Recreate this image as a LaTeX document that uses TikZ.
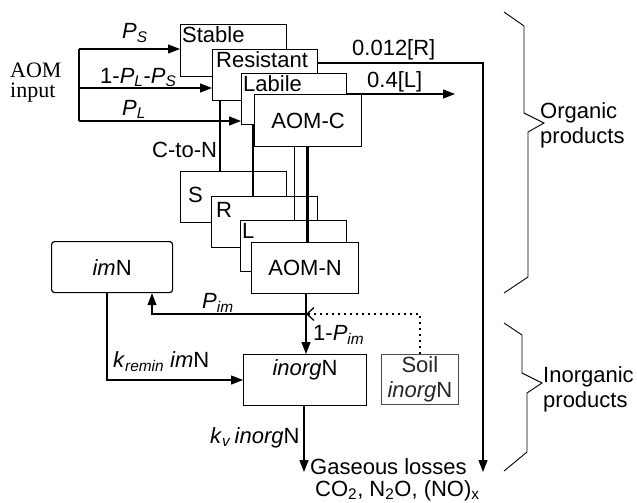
\documentclass[tikz,border=0pt]{standalone}
\usepackage{fontspec}
\setmainfont{Liberation Sans}
\newfontfamily\seriffam{Liberation Serif}
\usetikzlibrary{arrows.meta}
\begin{document}
\begin{tikzpicture}[x=1pt,y=-1pt, font=\fontsize{22}{25}\selectfont,
  box/.style={draw, fill=white, line width=1.2pt, inner sep=0pt, anchor=north west},
  txt/.style={inner sep=0pt, anchor=base west},
  ln/.style={line width=1.3pt},
  arr/.style={ln, -{Triangle[length=12pt,width=9pt]}},
  dots/.style={line width=2pt, dash pattern=on 2pt off 4pt, -{Straight Barb[length=7pt,width=13pt,line width=1.3pt]}},
  brace/.style={line width=0.9pt, line join=miter}]
\useasboundingbox (0,0) rectangle (637,503);
% carbon pools
\node[box, minimum width=106pt, minimum height=52pt] (stable) at (180,24) {};
\node[txt] (tstable) at (182,43) {Stable};
\node[box, minimum width=105pt, minimum height=51pt] (resistant) at (212,49) {};
\node[txt] (tres) at (216,67) {Resistant};
\node[box, minimum width=105pt, minimum height=51pt] (labile) at (241,73) {};
\node[txt] (tlab) at (243,92) {Labile};
\node[box, minimum width=107pt, minimum height=52pt] (aomc) at (254,94) {AOM-C};
% nitrogen pools
\node[box, minimum width=106pt, minimum height=51pt] (S) at (180,171) {};
\node[txt] (tS) at (188,202) {S};
\node[box, minimum width=106pt, minimum height=51pt] (R) at (211,196) {};
\node[txt] (tR) at (216,217) {R};
\node[box, minimum width=106pt, minimum height=51pt] (L) at (240,220) {};
\node[txt] (tL) at (242,238) {L};
\node[box, minimum width=107pt, minimum height=51pt] (aomn) at (251,242) {AOM-N};
% C to N connectors
\coordinate (xS) at (220,0);
\coordinate (xR) at (253,0);
\coordinate (xL) at (294,0);
\coordinate (xA) at (307,0);
\draw[ln] (resistant.south -| xS) -- (S.north -| xS);
\draw[ln] (labile.south -| xR) -- (R.north -| xR);
\draw[line width=1pt] (aomc.south -| xL) -- (L.north -| xL);
\draw[line width=3pt] (aomc.south -| xA) -- (aomn.north -| xA);
\node[txt] (ctn) at (152,157) {C-to-N};
% input
\node[font=\seriffam\fontsize{22}{20}\selectfont, align=left, inner sep=0pt, anchor=west] (input) at (10,83) {AOM\\input};
\coordinate (i1) at (79,49);
\coordinate (i2) at (79,88);
\coordinate (i3) at (79,121);
\draw[ln] (i1) -- (i3);
\draw[arr] (i1) -- (stable.west |- i1);
\draw[arr] (i2) -- (resistant.west |- i2);
\draw[arr] (i3) -- (labile.west |- i3);
\node[txt] (lps) at (122,39) {\textit{P}\textsubscript{\textit{S}}};
\node[txt] (lplps) at (100,83) {1-\textit{P}\textsubscript{\textit{L}}-\textit{P}\textsubscript{\textit{S}}};
\node[txt] (lpl) at (122,115) {\textit{P}\textsubscript{\textit{L}}};
% outputs
\coordinate (rTop) at (483,63);
\coordinate (rEnd) at (483,472);
\draw[arr] (resistant.east |- rTop) -- (rTop) -- (rEnd);
\node[txt] (l012) at (352,56) {0.012[R]};
\coordinate (lEnd) at (455,94);
\draw[arr] (labile.east |- lEnd) -- (lEnd);
\node[txt] (l04) at (367,88) {0.4[L]};
% lower part
\node[box, rounded corners=3pt, minimum width=121pt, minimum height=51pt] (imN) at (51,241) {\textit{im}N};
\node[box, minimum width=123pt, minimum height=51pt] (inorgN) at (243,354) {};
\node[inner sep=0pt, anchor=base] (tinorg) at (305,375) {\textit{inorg}N};
\node[box, draw=black!70, line width=0.8pt, minimum width=77pt, minimum height=50pt, align=center, text=black!85, font=\fontsize{22}{25}\selectfont] (soil) at (381,354) {Soil\\\textit{inorg}N};
\coordinate (j) at (306,314);
\draw[arr] (aomn.south -| j) -- (inorgN.north -| j);
\coordinate (pim) at (152,314);
\draw[arr] (j) -- (pim) -- (imN.south -| pim);
\node[txt] (lpim) at (202,308) {\textit{P}\textsubscript{\textit{im}}};
\node[txt] (l1pim) at (313,340) {1-\textit{P}\textsubscript{\textit{im}}};
\coordinate (dt) at (420,314);
\draw[dots] (soil.north -| dt) -- (dt) -- (j);
\coordinate (kr) at (107,380);
\draw[arr] (imN.south -| kr) -- (kr) -- (inorgN.west |- kr);
\node[txt] (lkr) at (113,367) {\textit{k}\textsubscript{\textit{remin}} \textit{im}N};
\coordinate (kv) at (304,472);
\draw[arr] (inorgN.south -| kv) -- (kv);
\node[txt] (lkv) at (210,443) {\textit{k}\textsubscript{\textit{v}}\,\textit{inorg}N};
\node[txt] (gas) at (310,474) {Gaseous losses};
\node[txt] (gas2) at (315,496) {CO\textsubscript{2}, N\textsubscript{2}O, (NO)\textsubscript{x}};
% braces
\draw[brace] (504,12) -- (524,26) -- (524,113) -- (544,123) -- (528,132) -- (528,277) -- (504,293);
\node[align=left, inner sep=0pt, anchor=west] (org) at (540,125) {Organic\\products};
\draw[brace] (504,323) -- (522,335) -- (522,373) -- (542,383) -- (527,393) -- (527,452) -- (504,471);
\node[align=left, inner sep=0pt, anchor=west] (inorg) at (543,389) {Inorganic\\products};
\end{tikzpicture}
\end{document}
